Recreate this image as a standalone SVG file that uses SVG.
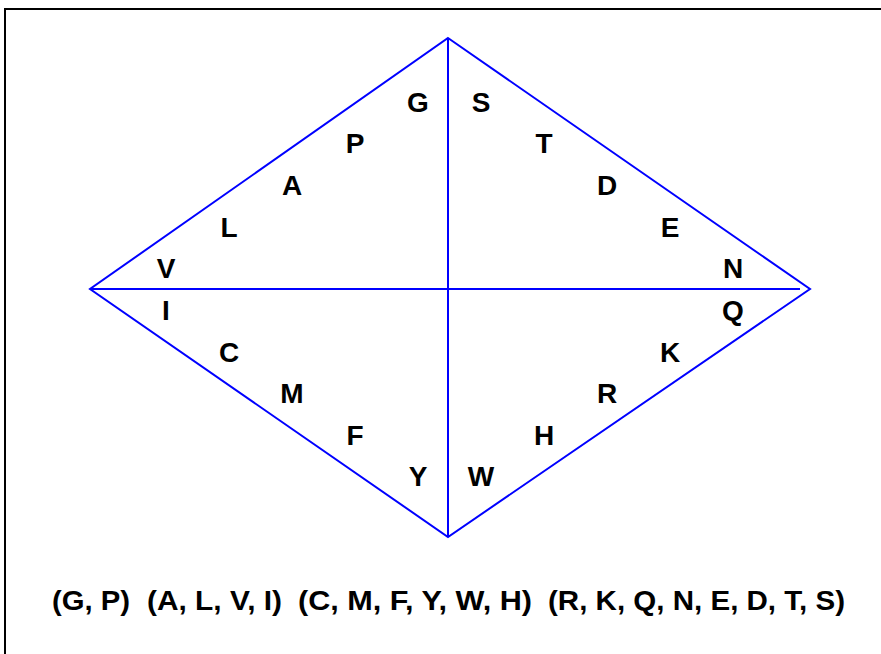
<svg xmlns="http://www.w3.org/2000/svg" width="881" height="654" viewBox="0 0 881 654">
<style>
.lbl{font-family:"Liberation Sans",Arial,sans-serif;font-weight:bold;font-size:28px;fill:#000;text-anchor:middle}
.cap{font-family:"Liberation Sans",Arial,sans-serif;font-weight:bold;font-size:28px;fill:#000}
.ln{stroke:#0000ff;stroke-width:2;fill:none}
</style>
<rect x="0" y="0" width="881" height="654" fill="#fff"/>
<rect x="5" y="9" width="890" height="660" fill="none" stroke="#000" stroke-width="2"/>
<g id="connectors">
<polygon class="ln" points="448,38 810,289 448,537 90,289"/>
<line class="ln" x1="448" y1="38" x2="448" y2="537"/>
<line class="ln" x1="90" y1="289" x2="800" y2="289"/>
</g>
<g id="nodes">
<g id="n-G"><text class="lbl" x="418" y="112">G</text></g>
<g id="n-P"><text class="lbl" x="355" y="153">P</text></g>
<g id="n-A"><text class="lbl" x="292" y="195">A</text></g>
<g id="n-L"><text class="lbl" x="229" y="237">L</text></g>
<g id="n-V"><text class="lbl" x="166" y="278">V</text></g>
<g id="n-S"><text class="lbl" x="481" y="112">S</text></g>
<g id="n-T"><text class="lbl" x="544" y="153">T</text></g>
<g id="n-D"><text class="lbl" x="607" y="195">D</text></g>
<g id="n-E"><text class="lbl" x="670" y="237">E</text></g>
<g id="n-N"><text class="lbl" x="733" y="278">N</text></g>
<g id="n-I"><text class="lbl" x="166" y="320">I</text></g>
<g id="n-C"><text class="lbl" x="229" y="362">C</text></g>
<g id="n-M"><text class="lbl" x="292" y="403">M</text></g>
<g id="n-F"><text class="lbl" x="355" y="445">F</text></g>
<g id="n-Y"><text class="lbl" x="418" y="486">Y</text></g>
<g id="n-Q"><text class="lbl" x="733" y="320">Q</text></g>
<g id="n-K"><text class="lbl" x="670" y="362">K</text></g>
<g id="n-R"><text class="lbl" x="607" y="403">R</text></g>
<g id="n-H"><text class="lbl" x="544" y="445">H</text></g>
<g id="n-W"><text class="lbl" x="481" y="486">W</text></g>
</g>
<g id="caption">
<text class="cap" x="52" y="610" textLength="78" lengthAdjust="spacingAndGlyphs">(G, P)</text>
<text class="cap" x="147" y="610" textLength="135" lengthAdjust="spacingAndGlyphs">(A, L, V, I)</text>
<text class="cap" x="298" y="610" textLength="234" lengthAdjust="spacingAndGlyphs">(C, M, F, Y, W, H)</text>
<text class="cap" x="548" y="610" textLength="297" lengthAdjust="spacingAndGlyphs">(R, K, Q, N, E, D, T, S)</text>
</g>
</svg>
